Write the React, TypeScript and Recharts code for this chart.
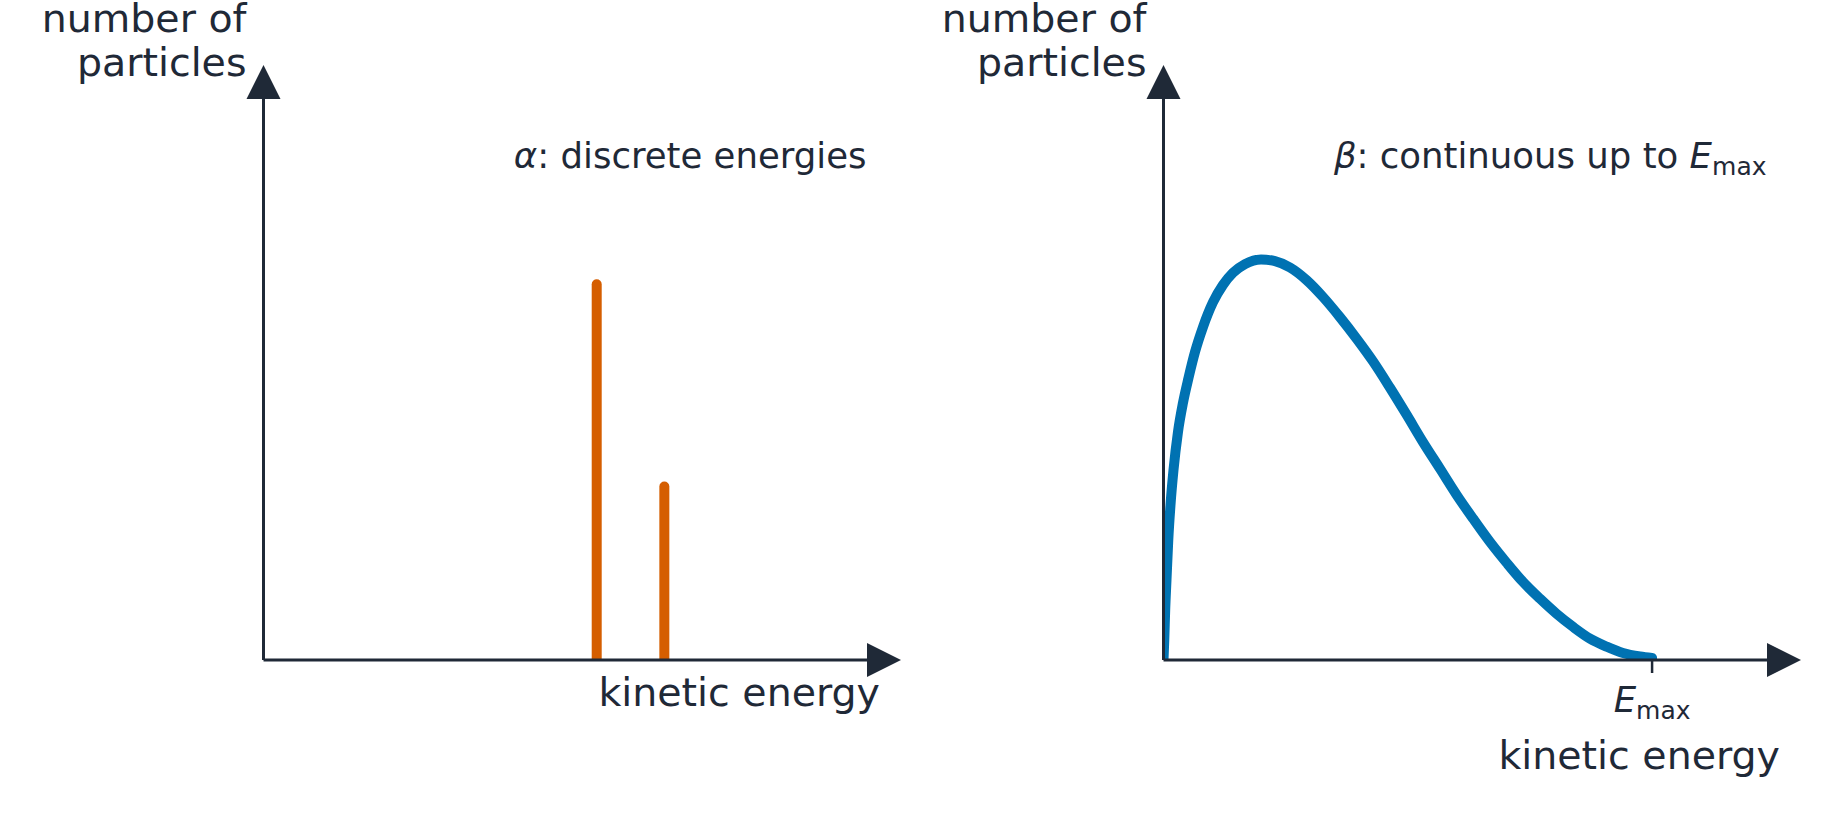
import React from 'react';
import { LineChart, Line, XAxis, YAxis, ReferenceDot, Customized } from 'recharts';

const INK = '#1f2937';
const ORANGE = '#d55e00';
const BLUE = '#0072b2';
const FONT = '"DejaVu Sans", sans-serif';

// alpha: two discrete lines (energy, relative count)
const alphaEnergies = [5.37, 6.46];
const alphaCounts = [0.65, 0.3];

// beta: continuous spectrum, energy in units of E_max
const betaEnergies = [
  0, 0.0016, 0.0035, 0.0061, 0.0098, 0.0143, 0.0205, 0.0297, 0.0399, 0.0512, 0.0645, 0.0808,
  0.1013, 0.1218, 0.1422, 0.1668, 0.1996, 0.2282, 0.2589, 0.2931, 0.3265, 0.3613, 0.3961,
  0.4294, 0.4636, 0.4978, 0.5311, 0.5659, 0.5997, 0.6341, 0.6683, 0.7024, 0.7358, 0.7706,
  0.8044, 0.8388, 0.8729, 0.9071, 0.9405, 0.9753, 1.0,
];
const betaCounts = [
  0, 0.035, 0.087, 0.138, 0.208, 0.268, 0.329, 0.395, 0.445, 0.488, 0.533, 0.576,
  0.619, 0.649, 0.67, 0.685, 0.693, 0.69, 0.679, 0.657, 0.628, 0.593, 0.555,
  0.516, 0.471, 0.424, 0.377, 0.331, 0.286, 0.244, 0.204, 0.168, 0.135, 0.106,
  0.08, 0.057, 0.037, 0.023, 0.012, 0.006, 0.0035,
];

const E_MAX = 1;
const alphaDomain: [number, number] = [0, 10];
const betaDomain: [number, number] = [0, 1.27];
const yDomain: [number, number] = [0, 1];

const W = 919;
const H = 820;
// axes take 1px each, so the plot area starts at left+1 and ends at H-bottom-1
const leftMargin = { top: 82, right: 35, bottom: 159, left: 262.5 };
const rightMargin = { top: 82, right: 54, bottom: 159, left: 243.5 };

const XArrow = ({ cx, cy }: any) => (
  <polygon points={`${cx - 17},${cy - 17} ${cx + 17},${cy} ${cx - 17},${cy + 17}`} fill={INK} />
);
const YArrow = ({ cx, cy }: any) => (
  <polygon points={`${cx - 17},${cy + 17} ${cx},${cy - 17} ${cx + 17},${cy + 17}`} fill={INK} />
);

const EmaxTick = ({ x, y }: any) => (
  <text x={x} y={y + 39} textAnchor="middle" fill={INK} fontFamily={FONT} fontSize={35.5}>
    <tspan fontStyle="italic">E</tspan>
    <tspan fontSize={25} dy={7}>max</tspan>
  </text>
);

const PanelText = ({ margin, xLabelY, note }: any) => {
  const axisX = margin.left + 1;
  const plotRight = W - margin.right;
  const common = { fill: INK, fontFamily: FONT, textAnchor: 'end' as const };
  return (
    <g>
      <text {...common} x={axisX - 17} y={32} fontSize={39.5}>number of</text>
      <text {...common} x={axisX - 17} y={76} fontSize={39.5}>particles</text>
      <text {...common} x={plotRight - 4} y={xLabelY} fontSize={39.5}>kinetic energy</text>
      <text {...common} x={plotRight - 17.5} y={168} fontSize={35.5}>{note}</text>
    </g>
  );
};

const App: React.FC = () => {
  const betaData = betaEnergies.map((e, i) => ({ e, n: betaCounts[i] }));

  return (
    <div style={{ position: 'absolute', left: 0, top: 0, width: 1838, height: 820, background: '#fff' }}>
      <div style={{ position: 'absolute', left: 0, top: 0 }}>
        <LineChart width={W} height={H} margin={leftMargin}>
          <XAxis
            type="number"
            dataKey="e"
            domain={alphaDomain}
            allowDataOverflow
            height={1}
            tick={false}
            tickLine={false}
            axisLine={{ stroke: INK, strokeWidth: 3 }}
          />
          <YAxis
            type="number"
            domain={yDomain}
            allowDataOverflow
            width={1}
            tick={false}
            tickLine={false}
            axisLine={{ stroke: INK, strokeWidth: 3 }}
          />
          {alphaEnergies.map((e, i) => (
            <Line
              key={e}
              data={[{ e, n: 0 }, { e, n: alphaCounts[i] }]}
              dataKey="n"
              type="linear"
              stroke={ORANGE}
              strokeWidth={10}
              strokeLinecap="round"
              dot={false}
              activeDot={false}
              isAnimationActive={false}
            />
          ))}
          <ReferenceDot x={alphaDomain[1]} y={0} ifOverflow="visible" shape={XArrow} />
          <ReferenceDot x={0} y={yDomain[1]} ifOverflow="visible" shape={YArrow} />
          <Customized
            component={
              <PanelText
                margin={leftMargin}
                xLabelY={706}
                note={
                  <>
                    <tspan fontStyle="italic">α</tspan>: discrete energies
                  </>
                }
              />
            }
          />
        </LineChart>
      </div>
      <div style={{ position: 'absolute', left: W, top: 0 }}>
        <LineChart width={W} height={H} margin={rightMargin} data={betaData}>
          <XAxis
            type="number"
            dataKey="e"
            domain={betaDomain}
            allowDataOverflow
            height={1}
            ticks={[E_MAX]}
            interval={0}
            tick={<EmaxTick />}
            tickSize={13}
            tickMargin={0}
            tickLine={{ stroke: INK, strokeWidth: 2.5 }}
            axisLine={{ stroke: INK, strokeWidth: 3 }}
          />
          <YAxis
            type="number"
            domain={yDomain}
            allowDataOverflow
            width={1}
            tick={false}
            tickLine={false}
            axisLine={{ stroke: INK, strokeWidth: 3 }}
          />
          <Line
            dataKey="n"
            type="monotone"
            stroke={BLUE}
            strokeWidth={10}
            strokeLinecap="round"
            strokeLinejoin="round"
            dot={false}
            activeDot={false}
            isAnimationActive={false}
          />
          <ReferenceDot x={betaDomain[1]} y={0} ifOverflow="visible" shape={XArrow} />
          <ReferenceDot x={0} y={yDomain[1]} ifOverflow="visible" shape={YArrow} />
          <Customized
            component={
              <PanelText
                margin={rightMargin}
                xLabelY={769}
                note={
                  <>
                    <tspan fontStyle="italic">β</tspan>: continuous up to{' '}
                    <tspan fontStyle="italic">E</tspan>
                    <tspan fontSize={25} dy={7}>max</tspan>
                  </>
                }
              />
            }
          />
        </LineChart>
      </div>
    </div>
  );
};

export default App;
